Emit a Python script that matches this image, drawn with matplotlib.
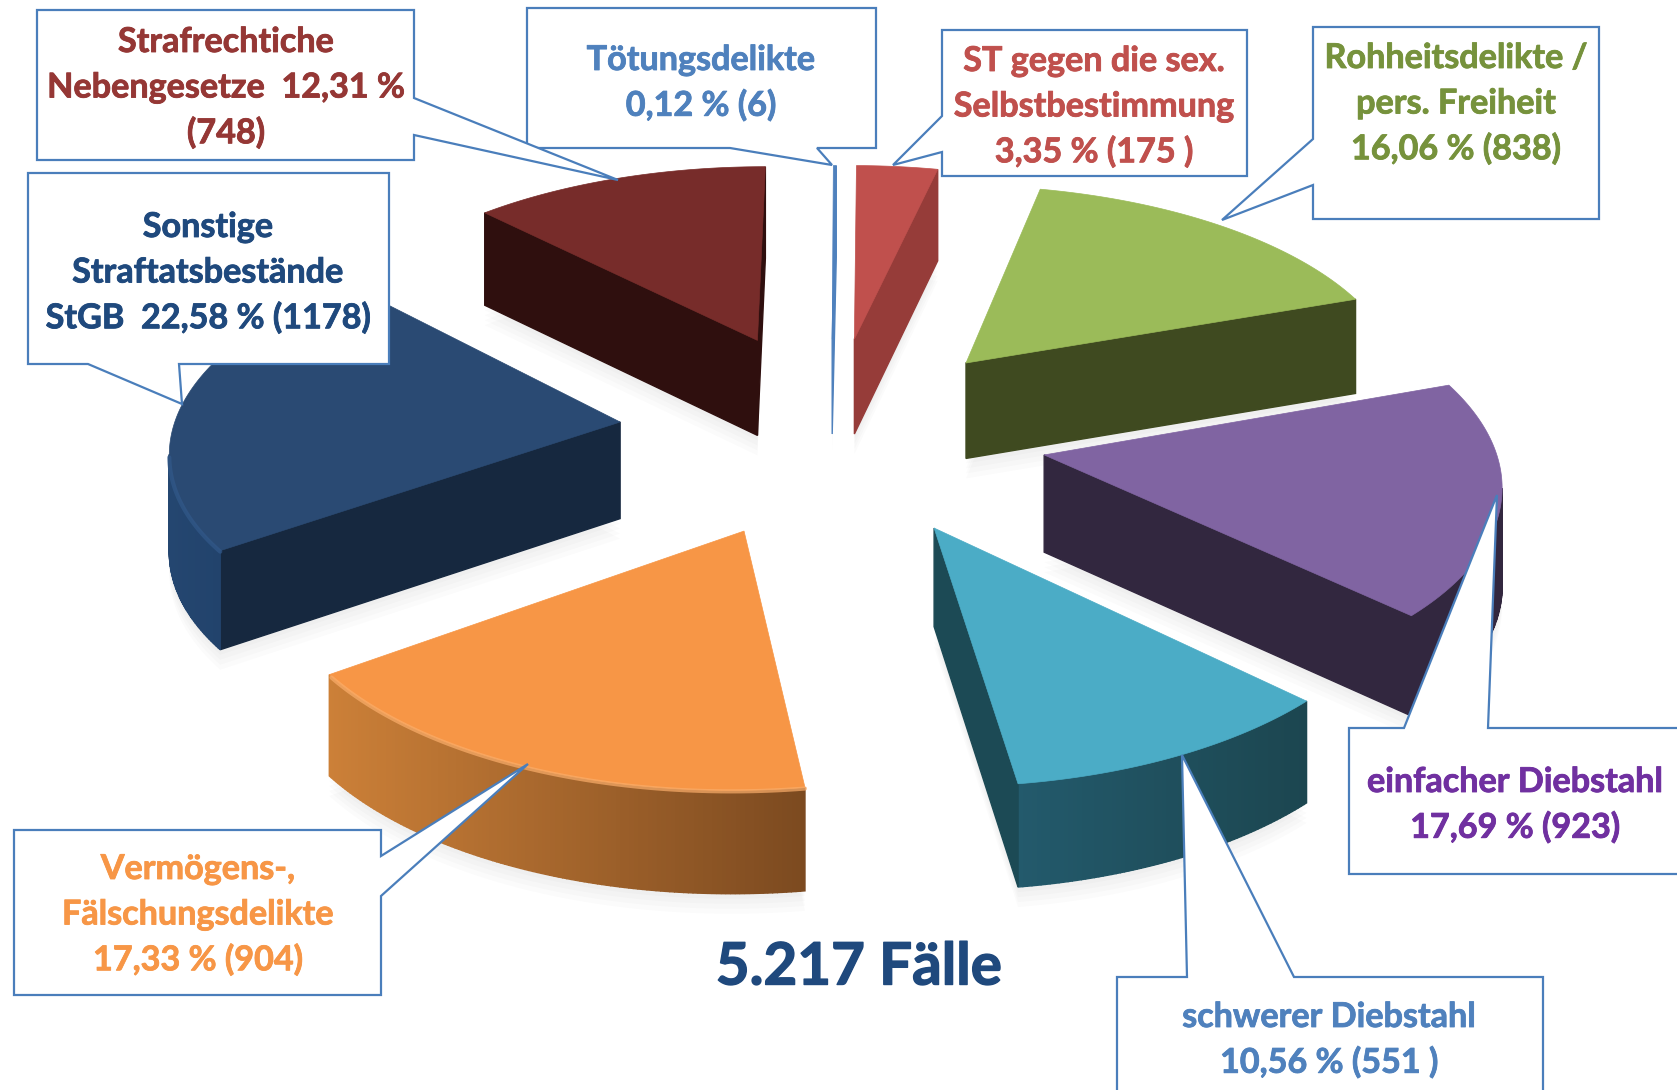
import numpy as np
import matplotlib
matplotlib.use("Agg")
import matplotlib.pyplot as plt
import matplotlib.patheffects as pe
from matplotlib.colors import to_rgb
from matplotlib.patches import Polygon

plt.rcParams['font.family'] = ['Lato', 'DejaVu Sans']

# --------------------------------
# Daten
# --------------------------------
anteile = [0.12, 3.35, 16.06, 17.69, 10.56, 17.33, 22.58, 12.31]
labels = [
    ["Tötungsdelikte", "0,12 % (6)"],
    ["ST gegen die sex.", "Selbstbestimmung", "3,35 % (175 )"],
    ["Rohheitsdelikte /", "pers. Freiheit", "16,06 % (838)"],
    ["einfacher Diebstahl", "17,69 % (923)"],
    ["schwerer Diebstahl", "10,56 % (551 )"],
    ["Vermögens-,", "Fälschungsdelikte", "17,33 % (904)"],
    ["Sonstige", "Straftatsbestände", "StGB  22,58 % (1178)"],
    ["Strafrechtiche", "Nebengesetze  12,31 %", "(748)"],
]
titel = "5.217 Fälle"

# Stil pro Stück
top_col = ['#4f81bd', '#c0504d', '#9bbb59', '#8064a2', '#4bacc6', '#f79646', '#2a4a73', '#772c2a']
wall_col = ['#4f81bd', '#963c39', '#3f4a20', '#32273f', '#1c4a55', '#7c4a20', '#16283f', '#2f0f0e']
bogen_l = ['#4f81bd', '#963c39', '#3f4a20', '#32273f', '#235a6c', '#cc8038', '#244670', '#2f0f0e']
bogen_r = ['#4f81bd', '#963c39', '#3f4a20', '#32273f', '#1c4650', '#7c4a20', '#1d3c62', '#2f0f0e']
rand_col = [None, None, None, None, None, '#fbae6b', '#32598a', None]
text_col = ['#4f81bd', '#c0504d', '#76923c', '#7030a0', '#4f81bd', '#f79646', '#1f497d', '#953735']
# Verschiebung der Stücke aus der Mitte (u, v)
versatz_u = [-0.03, 0.022, 0.28, 0.44, 0.19, -0.215, -0.505, -0.205]
versatz_v = [-0.517, -0.517, -0.393, 0.056, 0.385, 0.398, -0.10, -0.51]

# Kästen: x0, x1, y0, y1, Spitze, Wurzel der Spitze (2 Punkte), Kante
boxen = [
    (527, 876, 8, 148, (832, 165), (730, 817), 'b'),
    (942, 1247, 30, 176, (893, 165), (116, 152), 'l'),
    (1313, 1599, 27, 219, (1222, 220), (139, 185), 'l'),
    (1349, 1700, 728, 874, (1497, 495), (1404, 1488), 't'),
    (1117, 1543, 977, 1130, (1182, 755), (1187, 1294), 't'),
    (14, 381, 830, 995, (528, 764), (856, 896), 'r'),
    (28, 389, 173, 364, (182, 404), (88, 179), 'b'),
    (37, 414, 10, 160, (618, 180), (98, 135), 'r'),
]
text_x = [701, 1094, 1456, 1515, 1329, 198, 208, 226]
text_y = [60, 61, 58, 782, 1017, 869, 227, 42]
ZEILE = 45.5
BOX_COL = '#4a7ebb'

# Projektion (Perspektive)
CX, CY = 845, 443
A, B, P = 450, 212, 0.105
HOEHE = 97


def proj(u, v):
    s = 1 / (1 - P * v)
    return CX + A * u * s, CY + B * v * s, s


def stueck(k, start, ende):
    t = np.radians(np.linspace(start, ende, max(int(ende - start) * 2, 3)))
    u = np.r_[versatz_u[k], versatz_u[k] + np.sin(t)]
    v = np.r_[versatz_v[k], versatz_v[k] - np.cos(t)]
    x, y, s = proj(u, v)
    return x, y, y + HOEHE * s ** 0.4


def wand(ax, x, y, yb, i, j, farbe, z):
    ax.add_patch(Polygon([(x[i], y[i]), (x[j], y[j]), (x[j], yb[j]), (x[i], yb[i])],
                         closed=True, fc=farbe, ec=farbe, lw=1.0, zorder=z))


fig = plt.figure(figsize=(16.77, 10.90), dpi=100)
ax = fig.add_axes([0, 0, 1, 1])
ax.set_xlim(0, 1677)
ax.set_ylim(1090, 0)
ax.axis('off')

winkel = np.cumsum(np.r_[0, anteile]) / np.sum(anteile) * 360

# Schatten zuerst, dann die Stücke von hinten nach vorn
reihenfolge = sorted(range(len(anteile)), key=lambda k: versatz_v[k])
for k in reihenfolge:
    x, y, yb = stueck(k, winkel[k], winkel[k + 1])
    for off in (5, 10, 15, 20):
        ax.add_patch(Polygon(np.c_[x, yb + off], closed=True, fc='#808080', ec='none',
                             alpha=0.03, zorder=1))

for nr, k in enumerate(reihenfolge):
    x, y, yb = stueck(k, winkel[k], winkel[k + 1])
    z = 2 + nr
    n = len(x)
    l_rgb, r_rgb = np.array(to_rgb(bogen_l[k])), np.array(to_rgb(bogen_r[k]))
    xmin, xbreit = x[1:].min(), max(np.ptp(x[1:]), 1)
    for i in range(n):
        j = (i + 1) % n
        # nur Kanten, die im Bild nach rechts zeigen, liegen hinter der Deckfläche
        if x[j] - x[i] >= 0:
            continue
        if i in (0, n - 1):
            farbe = to_rgb(wall_col[k])
        else:
            f = (x[i] - xmin) / xbreit
            farbe = l_rgb + (r_rgb - l_rgb) * f
        wand(ax, x, y, yb, i, j, farbe, z)
    ax.add_patch(Polygon(np.c_[x, y], closed=True, fc=top_col[k], ec=top_col[k],
                         lw=0.5, zorder=z + 0.1))
    # heller Rand der Rundung (nur vorn)
    if rand_col[k]:
        vorn = np.where(np.diff(x[1:]) < 0)[0]
        ax.plot(x[1:][vorn], y[1:][vorn] + 1, color=rand_col[k], lw=3, alpha=0.7,
                zorder=z + 0.2, solid_capstyle='round')

# Legenden-Kästen mit Spitze
for k, (x0, x1, y0, y1, spitze, wurzel, kante) in enumerate(boxen):
    a, b = wurzel
    if kante == 'b':
        pts = [(x0, y0), (x1, y0), (x1, y1), (b, y1), spitze, (a, y1), (x0, y1)]
    elif kante == 't':
        pts = [(x0, y0), (a, y0), spitze, (b, y0), (x1, y0), (x1, y1), (x0, y1)]
    elif kante == 'l':
        pts = [(x0, y0), (x1, y0), (x1, y1), (x0, y1), (x0, b), spitze, (x0, a)]
    else:
        pts = [(x0, y0), (x1, y0), (x1, a), spitze, (x1, b), (x1, y1), (x0, y1)]
    ax.add_patch(Polygon(pts, closed=True, fc='white', ec=BOX_COL, lw=1.6,
                         zorder=30 + k, joinstyle='miter'))
    for z_nr, zeile in enumerate(labels[k]):
        t = ax.text(text_x[k], text_y[k] + z_nr * ZEILE, zeile, color=text_col[k], fontsize=24.6,
                    fontweight='bold', ha='center', va='center', zorder=50)
        t.set_path_effects([pe.withStroke(linewidth=0.6, foreground=text_col[k])])

t = ax.text(859, 968, titel, color='#1f497d', fontsize=42, fontweight='bold',
            ha='center', va='center', zorder=50)
t.set_path_effects([pe.withStroke(linewidth=1.0, foreground='#1f497d')])

fig.savefig("out.png", dpi=100)
